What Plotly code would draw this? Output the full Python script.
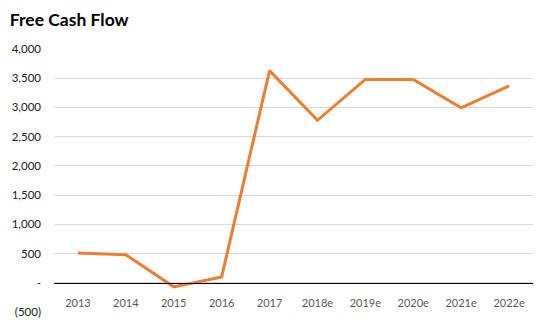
import plotly.graph_objects as go

# Free cash flow by year (actuals and estimates)
years = ["2013", "2014", "2015", "2016", "2017", "2018e", "2019e", "2020e", "2021e", "2022e"]
fcf = [510, 480, -70, 100, 3630, 2780, 3480, 3480, 2995, 3370]

y_tick_vals = [-500, 0, 500, 1000, 1500, 2000, 2500, 3000, 3500, 4000]
y_tick_text = ["(500)", "-", "500", "1,000", "1,500", "2,000", "2,500", "3,000", "3,500", "4,000"]

y_min, y_max = -500, 4000

fig = go.Figure()
fig.add_trace(go.Scatter(
    x=years, y=fcf, mode="lines",
    line=dict(color="#ED7D31", width=3),
    hoverinfo="x+y",
))

fig.update_layout(
    width=548, height=330,
    margin=dict(l=52, r=15, t=49, b=15),
    paper_bgcolor="white", plot_bgcolor="white",
    showlegend=False,
    font=dict(family="Lato, Open Sans, sans-serif", size=11, color="#595959"),
    title=dict(
        text="<b>Free Cash Flow</b>",
        x=0.018, xanchor="left", y=0.94, yanchor="middle",
        font=dict(family="Lato, Open Sans, sans-serif", size=17.5, color="#000000"),
    ),
    xaxis=dict(
        type="category",
        range=[-0.5, len(years) - 0.5],
        anchor="free",
        position=(0 - y_min) / (y_max - y_min),
        showline=True, linecolor="#000000", linewidth=1.3,
        showgrid=False, zeroline=False,
        ticks="", ticklabelstandoff=10,
        tickfont=dict(size=11, color="#595959"),
    ),
    yaxis=dict(
        range=[y_min, y_max],
        tickvals=y_tick_vals, ticktext=y_tick_text,
        showgrid=True, gridcolor="#D9D9D9", gridwidth=1,
        zeroline=False,
        showline=False, ticks="", ticklabelstandoff=12,
        tickfont=dict(size=11.5, color="#1a1a1a"),
    ),
)

fig.write_html("out.html")
